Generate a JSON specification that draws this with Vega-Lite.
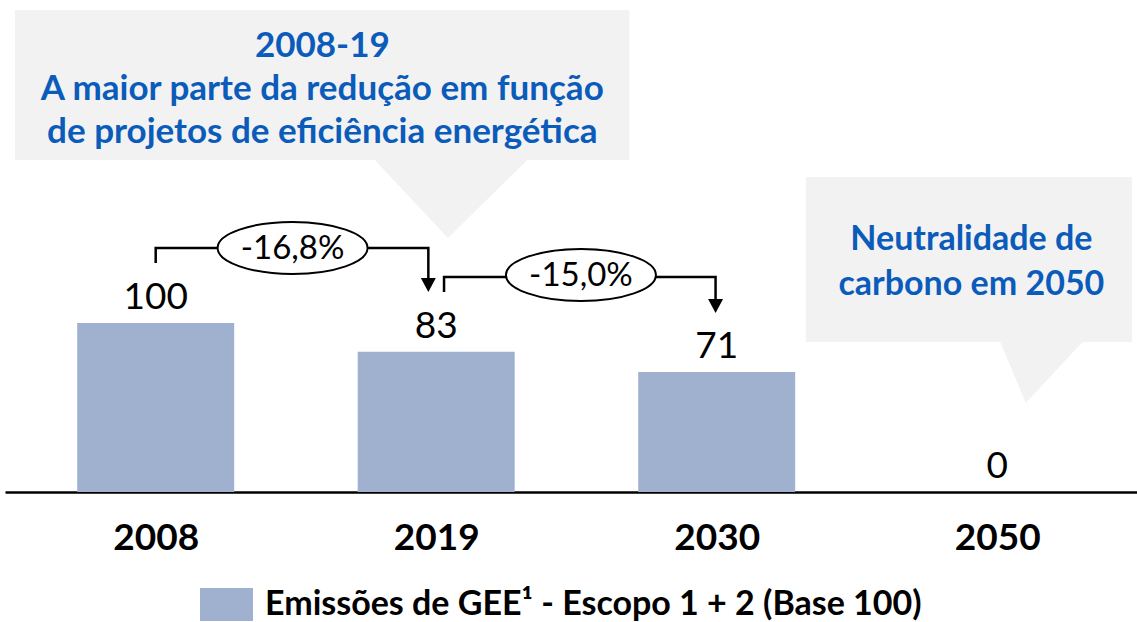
{
  "$schema": "https://vega.github.io/schema/vega-lite/v6.json",
  "autosize": "none",
  "padding": {"left": 5, "top": 0, "right": 0, "bottom": 130},
  "width": 1132,
  "height": 492,
  "config": {"view": {"stroke": null}, "font": "Lato"},
  "datasets": {
    "bars": [
      {"year": "2008", "i": 0, "v": 100},
      {"year": "2019", "i": 1, "v": 83},
      {"year": "2030", "i": 2, "v": 71},
      {"year": "2050", "i": 3, "v": 0}
    ],
    "boxes": [
      {"x": -0.5018, "x2": 1.689, "y": 285.2, "y2": 196.4},
      {"x": 2.318, "x2": 3.481, "y": 186.4, "y2": 88.8}
    ],
    "tri": [
      {"g": 1, "x": 0.781, "y": 197, "y2": 196.4},
      {"g": 1, "x": 1.042, "y": 197, "y2": 150.3},
      {"g": 1, "x": 1.325, "y": 197, "y2": 196.4},
      {"g": 2, "x": 3.011, "y": 89.4, "y2": 88.8},
      {"g": 2, "x": 3.102, "y": 89.4, "y2": 52.7},
      {"g": 2, "x": 3.304, "y": 89.4, "y2": 88.8}
    ],
    "brackets": [
      {"b": 1, "o": 1, "x": 0, "y": 135.5},
      {"b": 1, "o": 2, "x": 0, "y": 144.4},
      {"b": 1, "o": 3, "x": 0.972, "y": 144.4},
      {"b": 1, "o": 4, "x": 0.972, "y": 124.9},
      {"b": 2, "o": 1, "x": 1.028, "y": 118.3},
      {"b": 2, "o": 2, "x": 1.028, "y": 127.2},
      {"b": 2, "o": 3, "x": 1.996, "y": 127.2},
      {"b": 2, "o": 4, "x": 1.996, "y": 111.8}
    ],
    "arrows": [
      {"x": 0.972, "y": 122.5},
      {"x": 1.996, "y": 110.1}
    ],
    "ellipses": [
      {"x": 0.488, "y": 144.4, "t": "-16,8%"},
      {"x": 1.516, "y": 128.4, "t": "-15,0%"}
    ],
    "callout1": [
      {"x": 0.594, "y": 257.4, "t": ["2008-19", "A maior parte da redução em função", "de projetos de eficiência energética"]}
    ],
    "callout2": [
      {"x": 2.908, "y": 143.2, "t": ["Neutralidade de", "carbono em 2050"]}
    ]
  },
  "layer": [
    {
      "data": {"name": "boxes"},
      "mark": {"type": "rect", "fill": "#f2f2f2"},
      "encoding": {
        "x": {"field": "x", "type": "quantitative", "scale": {"domain": [-0.5194, 3.4806], "nice": false, "zero": false}, "axis": {"values": [0, 1, 2, 3], "labelExpr": "['2008','2019','2030','2050'][datum.value]", "domain": true, "domainColor": "#000000", "domainWidth": 2.5, "ticks": false, "tickSize": 0, "grid": false, "title": null, "labelFont": "Lato", "labelFontSize": 37, "labelFontWeight": "bold", "labelColor": "#000000", "labelBaseline": "alphabetic", "labelPadding": 57}},
        "x2": {"field": "x2"},
        "y": {"field": "y", "type": "quantitative", "scale": {"domain": [0, 291.12], "nice": false}, "axis": null},
        "y2": {"field": "y2"}
      }
    },
    {
      "data": {"name": "tri"},
      "mark": {"type": "area", "fill": "#f2f2f2", "interpolate": "linear"},
      "encoding": {
        "x": {"field": "x", "type": "quantitative"},
        "y": {"field": "y", "type": "quantitative"},
        "y2": {"field": "y2"},
        "detail": {"field": "g"}
      }
    },
    {
      "data": {"name": "bars"},
      "mark": {"type": "bar", "width": 157},
      "encoding": {
        "x": {"field": "i", "type": "quantitative"},
        "y": {"field": "v", "type": "quantitative"},
        "color": {"datum": "Emissões de GEE¹ - Escopo 1 + 2 (Base 100)", "scale": {"range": ["#a0b1cf"]}, "legend": {"orient": "none", "legendX": 195, "legendY": 578, "title": null, "symbolType": "M-1,-0.623L1,-0.623L1,0.623L-1,0.623Z", "symbolSize": 2809, "symbolStrokeWidth": 0, "symbolOpacity": 1, "labelFont": "Lato", "labelFontSize": 34, "labelFontWeight": "bold", "labelColor": "#000000", "labelOffset": 12, "labelLimit": 1000, "padding": 0}}
      }
    },
    {
      "data": {"name": "bars"},
      "mark": {"type": "text", "baseline": "alphabetic", "align": "center", "dy": -14, "fontSize": 37, "font": "Lato", "color": "#000000"},
      "encoding": {
        "x": {"field": "i", "type": "quantitative"},
        "y": {"field": "v", "type": "quantitative"},
        "text": {"field": "v", "type": "quantitative"}
      }
    },
    {
      "data": {"name": "brackets"},
      "mark": {"type": "line", "color": "#000000", "strokeWidth": 2.5, "strokeJoin": "miter", "strokeCap": "butt"},
      "encoding": {
        "x": {"field": "x", "type": "quantitative"},
        "y": {"field": "y", "type": "quantitative"},
        "detail": {"field": "b"},
        "order": {"field": "o"}
      }
    },
    {
      "data": {"name": "arrows"},
      "mark": {"type": "point", "shape": "M-1,-0.93L1,-0.93L0,0.93Z", "size": 225, "filled": true, "color": "#000000", "opacity": 1},
      "encoding": {
        "x": {"field": "x", "type": "quantitative"},
        "y": {"field": "y", "type": "quantitative"}
      }
    },
    {
      "data": {"name": "ellipses"},
      "mark": {"type": "point", "shape": "M-1.5,0A1.5,0.52,0,1,0,1.5,0A1.5,0.52,0,1,0,-1.5,0Z", "size": 10000, "fill": "#ffffff", "fillOpacity": 1, "stroke": "#000000", "strokeWidth": 2, "opacity": 1},
      "encoding": {
        "x": {"field": "x", "type": "quantitative"},
        "y": {"field": "y", "type": "quantitative"}
      }
    },
    {
      "data": {"name": "ellipses"},
      "mark": {"type": "text", "baseline": "middle", "align": "center", "fontSize": 33, "font": "Lato", "color": "#000000", "dy": 1},
      "encoding": {
        "x": {"field": "x", "type": "quantitative"},
        "y": {"field": "y", "type": "quantitative"},
        "text": {"field": "t"}
      }
    },
    {
      "data": {"name": "callout1"},
      "mark": {"type": "text", "baseline": "alphabetic", "align": "center", "fontSize": 35, "fontWeight": "bold", "font": "Lato", "color": "#0b5cba", "lineHeight": 43},
      "encoding": {
        "x": {"field": "x", "type": "quantitative"},
        "y": {"field": "y", "type": "quantitative"},
        "text": {"field": "t"}
      }
    },
    {
      "data": {"name": "callout2"},
      "mark": {"type": "text", "baseline": "alphabetic", "align": "center", "fontSize": 34, "fontWeight": "bold", "font": "Lato", "color": "#0b5cba", "lineHeight": 45},
      "encoding": {
        "x": {"field": "x", "type": "quantitative"},
        "y": {"field": "y", "type": "quantitative"},
        "text": {"field": "t"}
      }
    }
  ]
}
